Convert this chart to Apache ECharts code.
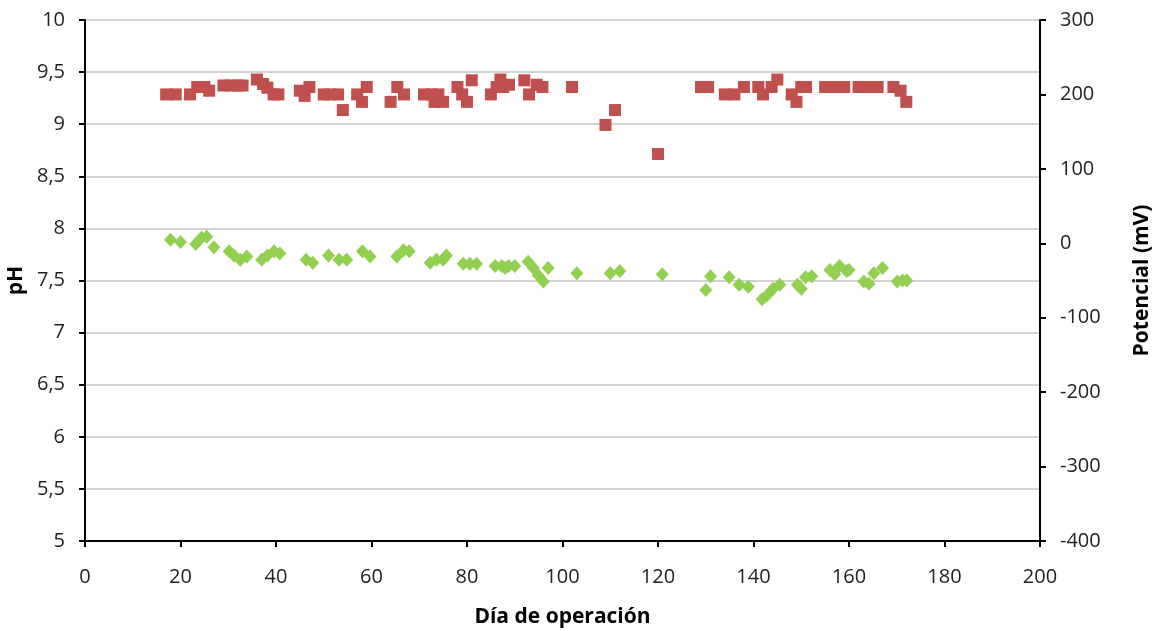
<!DOCTYPE html>
<html><head><meta charset="utf-8">
<script src="https://cdn.jsdelivr.net/npm/echarts@6/dist/echarts.min.js"></script>
<style>html,body{margin:0;padding:0;background:#fff}#c{width:1160px;height:631px}</style>
</head><body><div id="c"></div>
<script>
// Potencial (mV) – red squares, right axis
const potDays = [17,19,22,23.5,25,26,29,30.5,32,33,36,37.3,38.2,39.5,40.5,45,46,47,50,51.5,53,54,57,58,59,64,65.4,66.8,71,72.5,73.2,74,75,78,79,80,81,85,86.2,87,87.6,88.8,92,93,94.6,95.8,102,109,111,120,129,130.5,134,136,138,141,142,143.8,145,148,149,150,151,155,156.5,158,159,162,163.5,165,166,169.3,170.8,172];
const potValues = [200,200,200,210,210,205,212,212,212,212,220,214,209,200,200,205,198,210,200,200,200,179,200,190,210,190,210,200,200,200,190,200,190,210,200,190,219,200,210,220,210,213,219,200,213,210,210,159,179,120,210,210,200,200,210,210,200,210,220,200,190,210,210,210,210,210,210,210,210,210,210,210,205,190];
// pH – green diamonds, left axis
const phDays = [17.9,20,23.2,24.4,25.5,27,30.2,31.2,32.5,33.9,37,38.2,39.6,40.8,46.3,47.7,51,53.2,54.8,58.1,59.7,65.3,66.7,67.9,72.3,73.6,75,75.7,79.2,80.6,82,85.9,87.3,88,88.7,90,92.8,93.9,94.9,96,97,103,110,112,120.9,130,131,134.9,137,138.9,141.8,142.9,144.1,145.5,149.2,150,150.9,152.2,156,157,158,159.5,160,163.1,164.2,165.2,167,170.1,171.2,172.1];
const phValues = [7.89,7.87,7.85,7.91,7.92,7.82,7.78,7.74,7.70,7.73,7.70,7.74,7.78,7.76,7.70,7.67,7.74,7.70,7.70,7.78,7.73,7.73,7.79,7.78,7.67,7.70,7.70,7.74,7.66,7.66,7.66,7.64,7.64,7.62,7.64,7.64,7.68,7.62,7.55,7.49,7.62,7.57,7.57,7.59,7.56,7.41,7.54,7.53,7.46,7.44,7.32,7.36,7.42,7.46,7.46,7.42,7.53,7.54,7.60,7.56,7.64,7.59,7.60,7.49,7.47,7.57,7.62,7.49,7.50,7.50];
const xTitle = 'Día de operación';
const yLeftTitle = 'pH';
const yRightTitle = 'Potencial (mV)';

const font = '"Open Sans", "Liberation Sans", sans-serif';
const chart = echarts.init(document.getElementById('c'));
const axisLine = {show: true, onZero: false, lineStyle: {color: '#000', width: 2}};
const tick = {show: true, inside: false, length: 6, lineStyle: {color: '#000', width: 2}};
const lbl = {color: '#222', fontSize: 20, fontFamily: font};
const nameStyle = {color: '#000', fontSize: 21, fontWeight: 'bold', fontFamily: font};
chart.setOption({
  animation: false,
  grid: {left: 85, right: 120, top: 20, bottom: 90, containLabel: false, outerBoundsMode: 'none'},
  xAxis: {
    type: 'value', min: 0, max: 200, interval: 20,
    axisLine: axisLine, axisTick: tick, splitLine: {show: false},
    axisLabel: Object.assign({margin: 26}, lbl),
    name: xTitle, nameLocation: 'middle', nameGap: 66, nameTextStyle: nameStyle
  },
  yAxis: [{
    type: 'value', min: 5, max: 10, interval: 0.5, position: 'left',
    axisLine: axisLine, axisTick: tick,
    splitLine: {show: true, lineStyle: {color: '#c4c4c4', width: 1.5}},
    axisLabel: Object.assign({margin: 20, formatter: v => String(v).replace('.', ',')}, lbl),
    name: yLeftTitle, nameLocation: 'middle', nameGap: 55, nameRotate: 90, nameTextStyle: nameStyle
  }, {
    type: 'value', min: -400, max: 300, interval: 100, position: 'right',
    axisLine: axisLine, axisTick: tick, splitLine: {show: false},
    axisLabel: Object.assign({margin: 20}, lbl),
    name: yRightTitle, nameLocation: 'middle', nameGap: 92, nameRotate: 90, nameTextStyle: nameStyle
  }],
  series: [{
    name: yRightTitle, type: 'scatter', yAxisIndex: 1,
    symbol: 'rect', symbolSize: 12,
    itemStyle: {color: '#c0504d', opacity: 1},
    data: potDays.map((d, i) => [d, potValues[i]])
  }, {
    name: yLeftTitle, type: 'scatter', yAxisIndex: 0,
    symbol: 'diamond', symbolSize: [13, 14],
    itemStyle: {color: '#92d050', opacity: 1},
    data: phDays.map((d, i) => [d, phValues[i]])
  }]
});
</script>
</body></html>
